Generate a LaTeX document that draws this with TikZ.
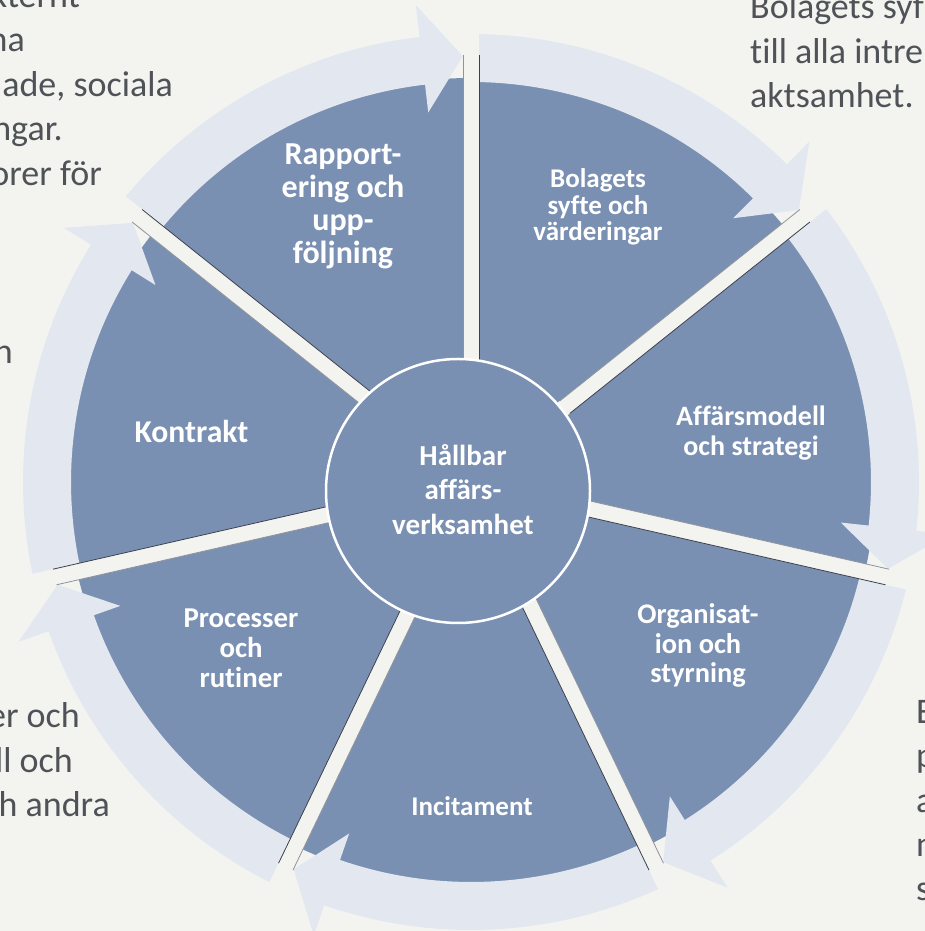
\documentclass[tikz,border=0pt]{standalone}
\usepackage{fontspec}
\setmainfont{Carlito}[Ligatures={NoCommon}]
\usetikzlibrary{calc}
\definecolor{bg}{HTML}{F3F3F0}
\definecolor{sect}{HTML}{7A90B2}
\definecolor{band}{HTML}{E3E8F0}
\definecolor{txt}{HTML}{4F5358}
\definecolor{edgedark}{HTML}{3C414C}
\definecolor{edgelight}{HTML}{8E939C}
\begin{document}
\begin{tikzpicture}[x=1pt,y=1pt,
  lbl/.style={text=white, align=center, inner sep=0},
  frag/.style={text=txt, inner sep=0, font=\fontsize{36}{44.5}\selectfont}]
\useasboundingbox (0,0) rectangle (925,931);
\clip (0,0) rectangle (925,931);
\fill[bg] (0,0) rectangle (925,931);
\coordinate (O) at (471,449);
% sectors
\fill[sect] (O) circle (404);
% circular arrows
\foreach \k in {0,...,6}{
  \pgfmathsetmacro\sa{90-360/7*\k}
  \pgfmathsetmacro\ta{90-360/7*(\k+1)+1.1}
  \pgfmathsetmacro\ba{\ta+5.5}
  \fill[band] ($(O)+(\sa:448)$) arc[start angle=\sa, end angle=\ba, radius=448]
    -- ($(O)+(\ba:480)$) -- ($(O)+(\ta:426)$) -- ($(O)+(\ba:372)$) -- ($(O)+(\ba:400)$)
    arc[start angle=\ba, end angle=\sa, radius=400] -- cycle;
}
% separators
\foreach \k in {0,...,6}{
  \pgfmathsetmacro\sa{90-360/7*\k}
  \pgfmathsetmacro\sp{\sa+90}
  \pgfmathsetmacro\sm{\sa-90}
  \fill[bg] ($(O)+(\sp:8)$) -- ($(O)+(\sp:8)+(\sa:470)$) -- ($(O)+(\sm:8)+(\sa:470)$) -- ($(O)+(\sm:8)$) -- cycle;
  \draw[edgelight, line width=0.8] ($(O)+(\sp:8)+(\sa:120)$) -- ($(O)+(\sp:8)+(\sa:427)$);
  \draw[edgedark, line width=0.8] ($(O)+(\sm:8)+(\sa:120)$) -- ($(O)+(\sm:8)+(\sa:427)$);
}
% hub
\node[circle, fill=sect, draw=white, line width=2.5, minimum size=264, inner sep=0] (hub) at (458,440) {};
\node[lbl, font=\fontsize{29}{34.5}\selectfont\bfseries] (hubtext) at (463,441.5) {Hållbar\\affärs-\\verksamhet};
% sector labels
\node[lbl, font=\fontsize{32}{33}\selectfont\bfseries] (rapp) at (343,725) {Rapport-\\ering och\\upp-\\följning};
\node[lbl, font=\fontsize{27}{26.5}\selectfont\bfseries] (bol) at (598,724) {Bolagets\\syfte och\\värderingar};
\node[lbl, font=\fontsize{28}{30}\selectfont\bfseries] (aff) at (751,498) {Affärsmodell\\och strategi};
\node[lbl, font=\fontsize{28.4}{29.5}\selectfont\bfseries] (org) at (698,285.5) {Organisat-\\ion och\\styrning};
\node[lbl, font=\fontsize{27}{28}\selectfont\bfseries] (inc) at (472,125) {Incitament};
\node[lbl, font=\fontsize{28.8}{30}\selectfont\bfseries] (proc) at (241,283) {Processer\\och\\rutiner};
\node[lbl, font=\fontsize{31.7}{33}\selectfont\bfseries] (kon) at (191.5,499) {Kontrakt};
% clipped text fragments
\node[frag, anchor=base east] (f1) at (80,923.5) {kternt};
\node[frag, anchor=base east] (f2) at (25,879) {na};
\node[frag, anchor=base east] (f3) at (173,834.5) {ade, sociala};
\node[frag, anchor=base east] (f4) at (63,790) {ngar.};
\node[frag, anchor=base east] (f5) at (102,745.5) {orer för};
\node[frag, anchor=base east] (f6) at (13,567.5) {h};
\node[frag, anchor=base east] (f7) at (80,203) {er och};
\node[frag, anchor=base east] (f8) at (73,158) {ll och};
\node[frag, anchor=base east] (f9) at (110,114) {h andra};
\node[frag, anchor=base west] (g1) at (750,912) {Bolagets syf};
\node[frag, anchor=base west] (g2) at (750,867.5) {till alla intre};
\node[frag, anchor=base west] (g3) at (750,823) {aktsamhet.};
\node[frag, anchor=base west] (h1) at (916,207) {E};
\node[frag, anchor=base west] (h2) at (916,163) {p};
\node[frag, anchor=base west] (h3) at (916,118) {a};
\node[frag, anchor=base west] (h4) at (916,74) {n};
\node[frag, anchor=base west] (h5) at (916,30) {s};
\end{tikzpicture}
\end{document}
